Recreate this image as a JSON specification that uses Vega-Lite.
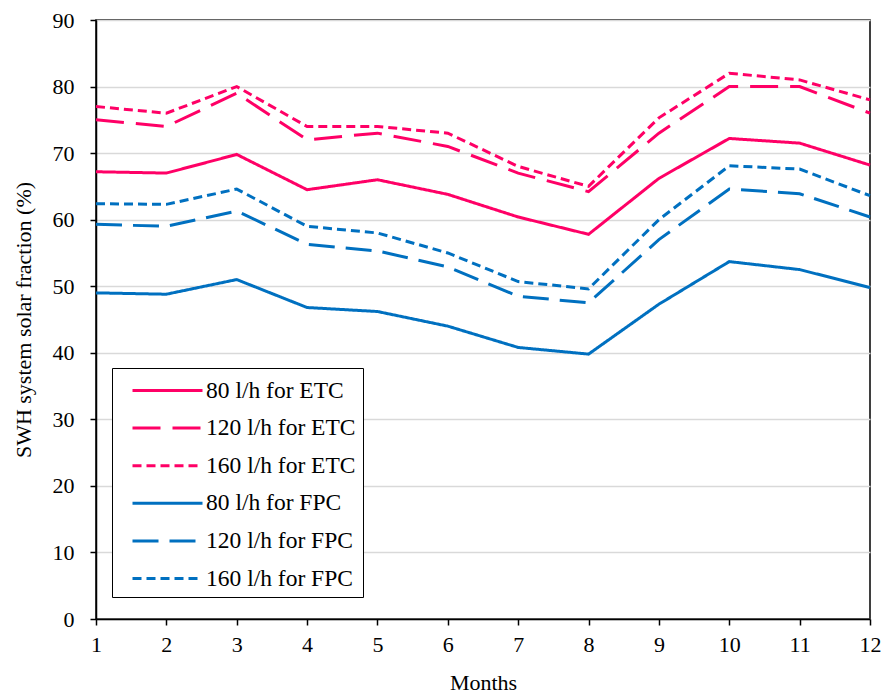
{
  "$schema": "https://vega.github.io/schema/vega-lite/v6.json",
  "width": 774,
  "height": 599,
  "autosize": {"type": "none"},
  "padding": {"left": 96, "top": 20, "right": 11, "bottom": 76},
  "background": "white",
  "config": {
    "view": {"stroke": "black", "strokeWidth": 1.5},
    "font": "Times New Roman, Liberation Serif, serif",
    "axis": {
      "labelFont": "Times New Roman, Liberation Serif, serif",
      "titleFont": "Times New Roman, Liberation Serif, serif",
      "labelFontSize": 22,
      "titleFontSize": 22,
      "titleFontWeight": "normal",
      "labelColor": "black",
      "titleColor": "black",
      "domainColor": "black",
      "domainWidth": 1.5,
      "tickColor": "black",
      "tickWidth": 1.5,
      "tickSize": 6
    }
  },
  "data": {
    "values": [
      {"month": 1, "series": "80 l/h for ETC", "value": 67.2},
      {"month": 2, "series": "80 l/h for ETC", "value": 67.0},
      {"month": 3, "series": "80 l/h for ETC", "value": 69.8},
      {"month": 4, "series": "80 l/h for ETC", "value": 64.5},
      {"month": 5, "series": "80 l/h for ETC", "value": 66.0},
      {"month": 6, "series": "80 l/h for ETC", "value": 63.8},
      {"month": 7, "series": "80 l/h for ETC", "value": 60.4},
      {"month": 8, "series": "80 l/h for ETC", "value": 57.8},
      {"month": 9, "series": "80 l/h for ETC", "value": 66.2},
      {"month": 10, "series": "80 l/h for ETC", "value": 72.2},
      {"month": 11, "series": "80 l/h for ETC", "value": 71.5},
      {"month": 12, "series": "80 l/h for ETC", "value": 68.2},
      {"month": 1, "series": "120 l/h for ETC", "value": 75.0},
      {"month": 2, "series": "120 l/h for ETC", "value": 74.0},
      {"month": 3, "series": "120 l/h for ETC", "value": 79.0},
      {"month": 4, "series": "120 l/h for ETC", "value": 72.0},
      {"month": 5, "series": "120 l/h for ETC", "value": 73.0},
      {"month": 6, "series": "120 l/h for ETC", "value": 71.0},
      {"month": 7, "series": "120 l/h for ETC", "value": 67.0},
      {"month": 8, "series": "120 l/h for ETC", "value": 64.2},
      {"month": 9, "series": "120 l/h for ETC", "value": 73.0},
      {"month": 10, "series": "120 l/h for ETC", "value": 80.0},
      {"month": 11, "series": "120 l/h for ETC", "value": 80.0},
      {"month": 12, "series": "120 l/h for ETC", "value": 76.0},
      {"month": 1, "series": "160 l/h for ETC", "value": 77.0},
      {"month": 2, "series": "160 l/h for ETC", "value": 76.0},
      {"month": 3, "series": "160 l/h for ETC", "value": 80.0},
      {"month": 4, "series": "160 l/h for ETC", "value": 74.0},
      {"month": 5, "series": "160 l/h for ETC", "value": 74.0},
      {"month": 6, "series": "160 l/h for ETC", "value": 73.0},
      {"month": 7, "series": "160 l/h for ETC", "value": 68.0},
      {"month": 8, "series": "160 l/h for ETC", "value": 65.0},
      {"month": 9, "series": "160 l/h for ETC", "value": 75.3},
      {"month": 10, "series": "160 l/h for ETC", "value": 82.0},
      {"month": 11, "series": "160 l/h for ETC", "value": 81.0},
      {"month": 12, "series": "160 l/h for ETC", "value": 78.0},
      {"month": 1, "series": "80 l/h for FPC", "value": 49.0},
      {"month": 2, "series": "80 l/h for FPC", "value": 48.8},
      {"month": 3, "series": "80 l/h for FPC", "value": 51.0},
      {"month": 4, "series": "80 l/h for FPC", "value": 46.8},
      {"month": 5, "series": "80 l/h for FPC", "value": 46.2},
      {"month": 6, "series": "80 l/h for FPC", "value": 44.0},
      {"month": 7, "series": "80 l/h for FPC", "value": 40.8},
      {"month": 8, "series": "80 l/h for FPC", "value": 39.8},
      {"month": 9, "series": "80 l/h for FPC", "value": 47.3},
      {"month": 10, "series": "80 l/h for FPC", "value": 53.7},
      {"month": 11, "series": "80 l/h for FPC", "value": 52.5},
      {"month": 12, "series": "80 l/h for FPC", "value": 49.8},
      {"month": 1, "series": "120 l/h for FPC", "value": 59.3},
      {"month": 2, "series": "120 l/h for FPC", "value": 59.0},
      {"month": 3, "series": "120 l/h for FPC", "value": 61.3},
      {"month": 4, "series": "120 l/h for FPC", "value": 56.3},
      {"month": 5, "series": "120 l/h for FPC", "value": 55.3},
      {"month": 6, "series": "120 l/h for FPC", "value": 52.9},
      {"month": 7, "series": "120 l/h for FPC", "value": 48.5},
      {"month": 8, "series": "120 l/h for FPC", "value": 47.5},
      {"month": 9, "series": "120 l/h for FPC", "value": 57.0},
      {"month": 10, "series": "120 l/h for FPC", "value": 64.6},
      {"month": 11, "series": "120 l/h for FPC", "value": 63.9},
      {"month": 12, "series": "120 l/h for FPC", "value": 60.4},
      {"month": 1, "series": "160 l/h for FPC", "value": 62.4},
      {"month": 2, "series": "160 l/h for FPC", "value": 62.3},
      {"month": 3, "series": "160 l/h for FPC", "value": 64.6},
      {"month": 4, "series": "160 l/h for FPC", "value": 59.0},
      {"month": 5, "series": "160 l/h for FPC", "value": 58.0},
      {"month": 6, "series": "160 l/h for FPC", "value": 55.0},
      {"month": 7, "series": "160 l/h for FPC", "value": 50.7},
      {"month": 8, "series": "160 l/h for FPC", "value": 49.6},
      {"month": 9, "series": "160 l/h for FPC", "value": 60.0},
      {"month": 10, "series": "160 l/h for FPC", "value": 68.1},
      {"month": 11, "series": "160 l/h for FPC", "value": 67.6},
      {"month": 12, "series": "160 l/h for FPC", "value": 63.6}
    ]
  },
  "mark": {"type": "line", "strokeWidth": 3, "strokeCap": "butt", "strokeJoin": "miter"},
  "encoding": {
    "x": {
      "field": "month",
      "type": "quantitative",
      "scale": {"domain": [1, 12], "nice": false, "zero": false},
      "axis": {
        "title": "Months",
        "values": [1, 2, 3, 4, 5, 6, 7, 8, 9, 10, 11, 12],
        "grid": false,
        "labelPadding": 9,
        "titlePadding": 17,
        "labelFlush": false
      }
    },
    "y": {
      "field": "value",
      "type": "quantitative",
      "scale": {"domain": [0, 90], "nice": false},
      "axis": {
        "title": "SWH system solar fraction (%)",
        "values": [0, 10, 20, 30, 40, 50, 60, 70, 80, 90],
        "grid": true,
        "gridColor": "#d9d9d9",
        "gridWidth": 1.5,
        "labelPadding": 16,
        "titlePadding": 17
      }
    },
    "color": {
      "field": "series",
      "type": "nominal",
      "scale": {
        "domain": ["80 l/h for ETC", "120 l/h for ETC", "160 l/h for ETC", "80 l/h for FPC", "120 l/h for FPC", "160 l/h for FPC"],
        "range": ["#ff0066", "#ff0066", "#ff0066", "#0070c0", "#0070c0", "#0070c0"]
      },
      "legend": {
        "title": null,
        "orient": "none",
        "legendX": 16,
        "legendY": 348,
        "direction": "vertical",
        "fillColor": "white",
        "strokeColor": "black",
        "padding": 7,
        "rowPadding": 10.6,
        "symbolType": "M-1,0H4",
        "symbolSize": 784,
        "symbolOffset": 12,
        "symbolStrokeWidth": 3,
        "labelOffset": 44,
        "labelFont": "Times New Roman, Liberation Serif, serif",
        "labelFontSize": 23.5,
        "labelColor": "black",
        "labelLimit": 300
      }
    },
    "strokeDash": {
      "field": "series",
      "type": "nominal",
      "scale": {
        "domain": ["80 l/h for ETC", "120 l/h for ETC", "160 l/h for ETC", "80 l/h for FPC", "120 l/h for FPC", "160 l/h for FPC"],
        "range": [[1, 0], [28, 12], [9, 5], [1, 0], [26, 11], [9, 5]]
      },
      "legend": null
    }
  }
}
